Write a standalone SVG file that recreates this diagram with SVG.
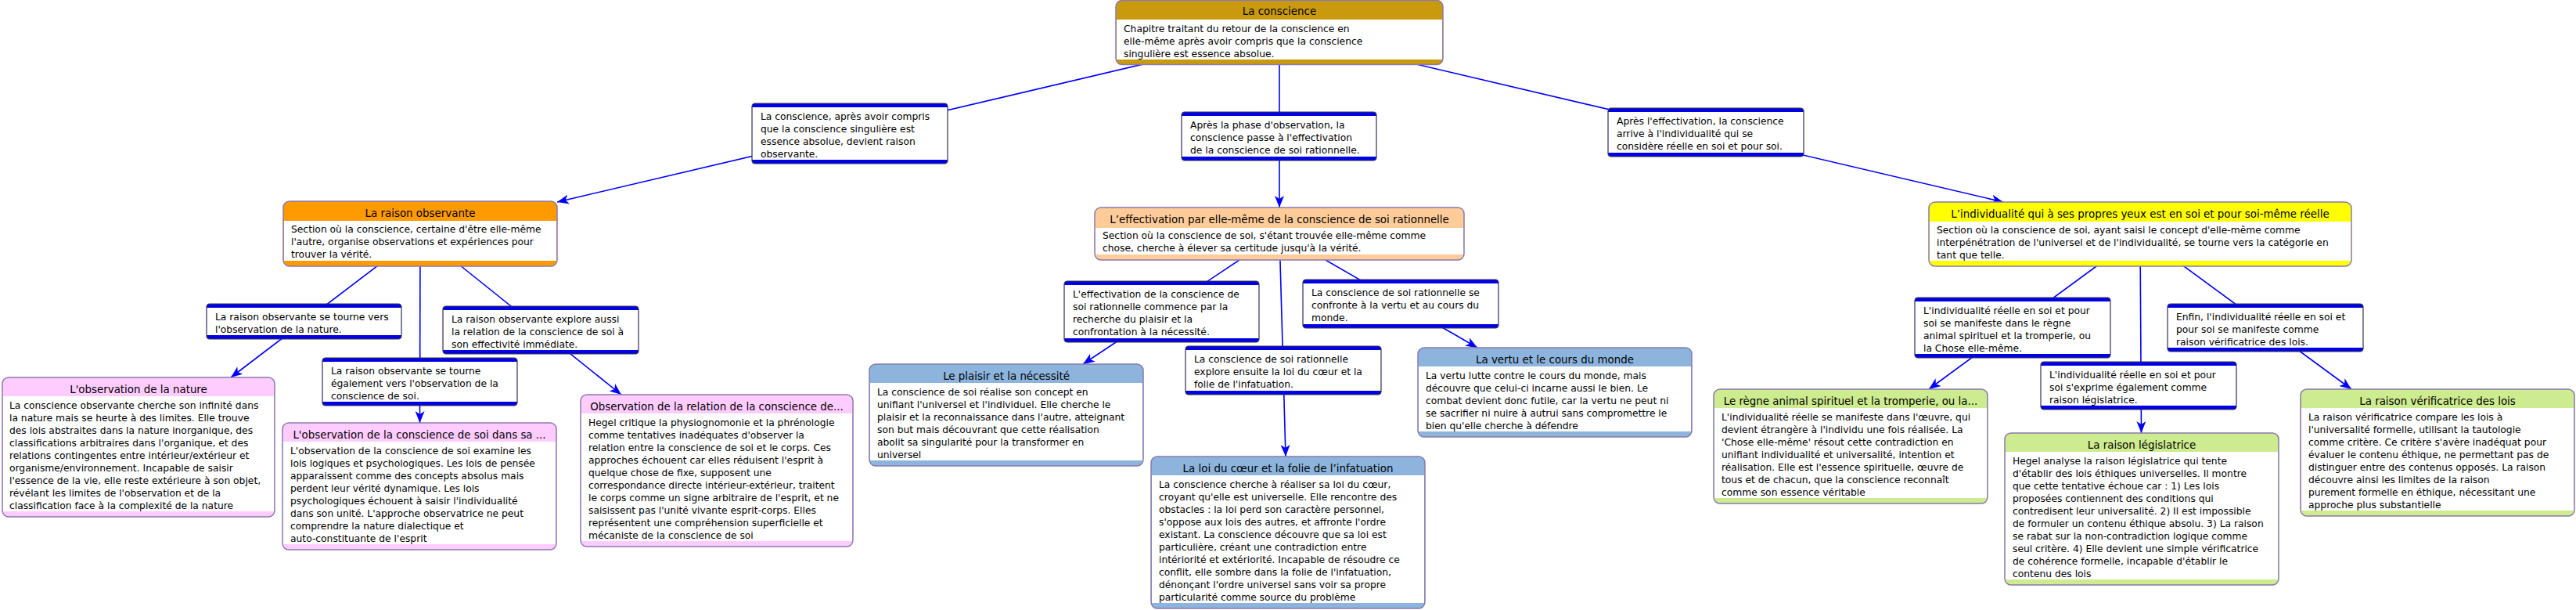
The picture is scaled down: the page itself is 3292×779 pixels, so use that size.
<svg xmlns="http://www.w3.org/2000/svg" width="3292" height="779" viewBox="0 0 3292 779">
<defs>
<marker id="arr" markerUnits="userSpaceOnUse" markerWidth="16" markerHeight="12" refX="15" refY="6" orient="auto">
<path d="M0,0 L15,6 L0,12 L4,6 z" fill="#0000ff"/>
</marker>
<style>
.bg{fill:#ffffff}
.edge{stroke:#0000ff;stroke-width:1.6;fill:none;marker-end:url(#arr)}
.lo{fill:#0000e6;stroke:#3a3a3a;stroke-width:1.2}
.li{fill:#ffffff}
.nb{fill:none;stroke:#8a7aae;stroke-width:1.5}
.nw{fill:#ffffff}
text{font-family:"DejaVu Sans","Liberation Sans",sans-serif;fill:#000000}
.t{font-size:13.4px;text-anchor:middle}
.b{font-size:12.3px}
</style>
</defs>
<rect class="bg" x="0" y="0" width="3292" height="779"/>
<g id="connectors">
<path class="edge" d="M1635,41 L712,258"/>
<path class="edge" d="M1635,41 L1635,265"/>
<path class="edge" d="M1635,41 L2560,258"/>
<path class="edge" d="M537,298 L295,482"/>
<path class="edge" d="M537,298 L536.5,540"/>
<path class="edge" d="M537,298 L794,504"/>
<path class="edge" d="M1635,298 L1384,465"/>
<path class="edge" d="M1635,298 L1643,583"/>
<path class="edge" d="M1635,298 L1888,444"/>
<path class="edge" d="M2735,299 L2465,497"/>
<path class="edge" d="M2735,299 L2736.5,553"/>
<path class="edge" d="M2735,299 L3005,497"/>
</g>

<g id="n-top">
<rect x="1426" y="0.5" width="418" height="82" rx="8" fill="#c99a0e"/>
<rect class="nw" x="1427" y="25" width="416" height="51"/>
<rect class="nb" x="1426" y="0.5" width="418" height="82" rx="8"/>
<text class="t" x="1635" y="19">La conscience</text>
<text class="b" x="1436"><tspan x="1436" y="41">Chapitre traitant du retour de la conscience en</tspan><tspan x="1436" y="57">elle-même après avoir compris que la conscience</tspan><tspan x="1436" y="73">singulière est essence absolue.</tspan></text>
</g>

<g id="l-top-left">
<rect class="lo" x="961" y="132" width="250" height="77" rx="4"/>
<rect class="li" x="961.6" y="137" width="248.8" height="67"/>
<text class="b"><tspan x="972" y="153">La conscience, après avoir compris</tspan><tspan x="972" y="169">que la conscience singulière est</tspan><tspan x="972" y="185">essence absolue, devient raison</tspan><tspan x="972" y="201">observante.</tspan></text>
</g>
<g id="l-top-mid">
<rect class="lo" x="1510" y="143" width="249" height="62" rx="4"/>
<rect class="li" x="1510.6" y="148" width="247.8" height="52"/>
<text class="b"><tspan x="1521" y="164">Après la phase d'observation, la</tspan><tspan x="1521" y="180">conscience passe à l'effectivation</tspan><tspan x="1521" y="196">de la conscience de soi rationnelle.</tspan></text>
</g>
<g id="l-top-right">
<rect class="lo" x="2055" y="138" width="250" height="62" rx="4"/>
<rect class="li" x="2055.6" y="143" width="248.8" height="52"/>
<text class="b"><tspan x="2066" y="159">Après l'effectivation, la conscience</tspan><tspan x="2066" y="175">arrive à l'individualité qui se</tspan><tspan x="2066" y="191">considère réelle en soi et pour soi.</tspan></text>
</g>

<g id="n-raison-observante">
<rect x="362" y="257" width="350" height="83" rx="8" fill="#ff9a00"/>
<rect class="nw" x="363" y="282" width="348" height="51"/>
<rect class="nb" x="362" y="257" width="350" height="83" rx="8"/>
<text class="t" x="537" y="277">La raison observante</text>
<text class="b"><tspan x="372" y="297">Section où la conscience, certaine d'être elle-même</tspan><tspan x="372" y="313">l'autre, organise observations et expériences pour</tspan><tspan x="372" y="329">trouver la vérité.</tspan></text>
</g>

<g id="l-ro-a">
<rect class="lo" x="264" y="388" width="249" height="45" rx="4"/>
<rect class="li" x="264.6" y="393" width="247.8" height="35"/>
<text class="b"><tspan x="275" y="409">La raison observante se tourne vers</tspan><tspan x="275" y="425">l'observation de la nature.</tspan></text>
</g>
<g id="l-ro-b">
<rect class="lo" x="412" y="457" width="249" height="61" rx="4"/>
<rect class="li" x="412.6" y="462" width="247.8" height="51"/>
<text class="b"><tspan x="423" y="478">La raison observante se tourne</tspan><tspan x="423" y="494">également vers l'observation de la</tspan><tspan x="423" y="510">conscience de soi.</tspan></text>
</g>
<g id="l-ro-c">
<rect class="lo" x="566" y="391" width="250" height="61" rx="4"/>
<rect class="li" x="566.6" y="396" width="248.8" height="51"/>
<text class="b"><tspan x="577" y="412">La raison observante explore aussi</tspan><tspan x="577" y="428">la relation de la conscience de soi à</tspan><tspan x="577" y="444">son effectivité immédiate.</tspan></text>
</g>

<g id="n-obs-nature">
<rect x="3" y="482" width="348" height="178" rx="8" fill="#ffccff"/>
<rect class="nw" x="4" y="506" width="346" height="147"/>
<rect class="nb" x="3" y="482" width="348" height="178" rx="8"/>
<text class="t" x="177" y="502">L'observation de la nature</text>
<text class="b"><tspan x="12" y="522">La conscience observante cherche son infinité dans</tspan><tspan x="12" y="538">la nature mais se heurte à des limites. Elle trouve</tspan><tspan x="12" y="554">des lois abstraites dans la nature inorganique, des</tspan><tspan x="12" y="570">classifications arbitraires dans l'organique, et des</tspan><tspan x="12" y="586">relations contingentes entre intérieur/extérieur et</tspan><tspan x="12" y="602">organisme/environnement. Incapable de saisir</tspan><tspan x="12" y="618">l'essence de la vie, elle reste extérieure à son objet,</tspan><tspan x="12" y="634">révélant les limites de l'observation et de la</tspan><tspan x="12" y="650">classification face à la complexité de la nature</tspan></text>
</g>

<g id="n-obs-conscience">
<rect x="361" y="540" width="350" height="162" rx="8" fill="#ffccff"/>
<rect class="nw" x="362" y="564" width="348" height="131"/>
<rect class="nb" x="361" y="540" width="350" height="162" rx="8"/>
<text class="t" x="536" y="560">L'observation de la conscience de soi dans sa ...</text>
<text class="b"><tspan x="371" y="580">L'observation de la conscience de soi examine les</tspan><tspan x="371" y="596">lois logiques et psychologiques. Les lois de pensée</tspan><tspan x="371" y="612">apparaissent comme des concepts absolus mais</tspan><tspan x="371" y="628">perdent leur vérité dynamique. Les lois</tspan><tspan x="371" y="644">psychologiques échouent à saisir l'individualité</tspan><tspan x="371" y="660">dans son unité. L'approche observatrice ne peut</tspan><tspan x="371" y="676">comprendre la nature dialectique et</tspan><tspan x="371" y="692">auto-constituante de l'esprit</tspan></text>
</g>

<g id="n-obs-relation">
<rect x="742" y="504" width="348" height="194" rx="8" fill="#ffccff"/>
<rect class="nw" x="743" y="528" width="346" height="163"/>
<rect class="nb" x="742" y="504" width="348" height="194" rx="8"/>
<text class="t" x="916" y="524">Observation de la relation de la conscience de...</text>
<text class="b"><tspan x="752" y="544">Hegel critique la physiognomonie et la phrénologie</tspan><tspan x="752" y="560">comme tentatives inadéquates d'observer la</tspan><tspan x="752" y="576">relation entre la conscience de soi et le corps. Ces</tspan><tspan x="752" y="592">approches échouent car elles réduisent l'esprit à</tspan><tspan x="752" y="608">quelque chose de fixe, supposent une</tspan><tspan x="752" y="624">correspondance directe intérieur-extérieur, traitent</tspan><tspan x="752" y="640">le corps comme un signe arbitraire de l'esprit, et ne</tspan><tspan x="752" y="656">saisissent pas l'unité vivante esprit-corps. Elles</tspan><tspan x="752" y="672">représentent une compréhension superficielle et</tspan><tspan x="752" y="688">mécaniste de la conscience de soi</tspan></text>
</g>

<g id="n-effectivation">
<rect x="1399" y="265" width="472" height="67" rx="8" fill="#ffcc99"/>
<rect class="nw" x="1400" y="291" width="470" height="34"/>
<rect class="nb" x="1399" y="265" width="472" height="67" rx="8"/>
<text class="t" x="1635" y="285">L’effectivation par elle-même de la conscience de soi rationnelle</text>
<text class="b"><tspan x="1409" y="305">Section où la conscience de soi, s'étant trouvée elle-même comme</tspan><tspan x="1409" y="321">chose, cherche à élever sa certitude jusqu'à la vérité.</tspan></text>
</g>

<g id="l-ef-a">
<rect class="lo" x="1360" y="359" width="249" height="78" rx="4"/>
<rect class="li" x="1360.6" y="364" width="247.8" height="68"/>
<text class="b"><tspan x="1371" y="380">L'effectivation de la conscience de</tspan><tspan x="1371" y="396">soi rationnelle commence par la</tspan><tspan x="1371" y="412">recherche du plaisir et la</tspan><tspan x="1371" y="428">confrontation à la nécessité.</tspan></text>
</g>
<g id="l-ef-b">
<rect class="lo" x="1665" y="357" width="250" height="62" rx="4"/>
<rect class="li" x="1665.6" y="362" width="248.8" height="52"/>
<text class="b"><tspan x="1676" y="378">La conscience de soi rationnelle se</tspan><tspan x="1676" y="394">confronte à la vertu et au cours du</tspan><tspan x="1676" y="410">monde.</tspan></text>
</g>
<g id="l-ef-c">
<rect class="lo" x="1515" y="442" width="250" height="62" rx="4"/>
<rect class="li" x="1515.6" y="447" width="248.8" height="52"/>
<text class="b"><tspan x="1526" y="463">La conscience de soi rationnelle</tspan><tspan x="1526" y="479">explore ensuite la loi du cœur et la</tspan><tspan x="1526" y="495">folie de l'infatuation.</tspan></text>
</g>

<g id="n-plaisir">
<rect x="1111" y="465" width="350" height="130" rx="8" fill="#8cb4dc"/>
<rect class="nw" x="1112" y="489" width="348" height="99"/>
<rect class="nb" x="1111" y="465" width="350" height="130" rx="8"/>
<text class="t" x="1286" y="485">Le plaisir et la nécessité</text>
<text class="b"><tspan x="1121" y="505">La conscience de soi réalise son concept en</tspan><tspan x="1121" y="521">unifiant l'universel et l'individuel. Elle cherche le</tspan><tspan x="1121" y="537">plaisir et la reconnaissance dans l'autre, atteignant</tspan><tspan x="1121" y="553">son but mais découvrant que cette réalisation</tspan><tspan x="1121" y="569">abolit sa singularité pour la transformer en</tspan><tspan x="1121" y="585">universel</tspan></text>
</g>

<g id="n-loi-coeur">
<rect x="1471" y="583" width="350" height="194" rx="8" fill="#8cb4dc"/>
<rect class="nw" x="1472" y="607" width="348" height="163"/>
<rect class="nb" x="1471" y="583" width="350" height="194" rx="8"/>
<text class="t" x="1646" y="603">La loi du cœur et la folie de l’infatuation</text>
<text class="b"><tspan x="1481" y="623">La conscience cherche à réaliser sa loi du cœur,</tspan><tspan x="1481" y="639">croyant qu'elle est universelle. Elle rencontre des</tspan><tspan x="1481" y="655">obstacles : la loi perd son caractère personnel,</tspan><tspan x="1481" y="671">s'oppose aux lois des autres, et affronte l'ordre</tspan><tspan x="1481" y="687">existant. La conscience découvre que sa loi est</tspan><tspan x="1481" y="703">particulière, créant une contradiction entre</tspan><tspan x="1481" y="719">intériorité et extériorité. Incapable de résoudre ce</tspan><tspan x="1481" y="735">conflit, elle sombre dans la folie de l'infatuation,</tspan><tspan x="1481" y="751">dénonçant l'ordre universel sans voir sa propre</tspan><tspan x="1481" y="767">particularité comme source du problème</tspan></text>
</g>

<g id="n-vertu">
<rect x="1812" y="444" width="350" height="114" rx="8" fill="#8cb4dc"/>
<rect class="nw" x="1813" y="468" width="348" height="83"/>
<rect class="nb" x="1812" y="444" width="350" height="114" rx="8"/>
<text class="t" x="1987" y="464">La vertu et le cours du monde</text>
<text class="b"><tspan x="1822" y="484">La vertu lutte contre le cours du monde, mais</tspan><tspan x="1822" y="500">découvre que celui-ci incarne aussi le bien. Le</tspan><tspan x="1822" y="516">combat devient donc futile, car la vertu ne peut ni</tspan><tspan x="1822" y="532">se sacrifier ni nuire à autrui sans compromettre le</tspan><tspan x="1822" y="548">bien qu'elle cherche à défendre</tspan></text>
</g>

<g id="n-individualite">
<rect x="2465" y="258" width="540" height="82" rx="8" fill="#ffff00"/>
<rect class="nw" x="2466" y="283" width="538" height="50"/>
<rect class="nb" x="2465" y="258" width="540" height="82" rx="8"/>
<text class="t" x="2735" y="278">L’individualité qui à ses propres yeux est en soi et pour soi-même réelle</text>
<text class="b"><tspan x="2475" y="298">Section où la conscience de soi, ayant saisi le concept d'elle-même comme</tspan><tspan x="2475" y="314">interpénétration de l'universel et de l'individualité, se tourne vers la catégorie en</tspan><tspan x="2475" y="330">tant que telle.</tspan></text>
</g>

<g id="l-in-a">
<rect class="lo" x="2447" y="380" width="250" height="77" rx="4"/>
<rect class="li" x="2447.6" y="385" width="248.8" height="67"/>
<text class="b"><tspan x="2458" y="401">L'individualité réelle en soi et pour</tspan><tspan x="2458" y="417">soi se manifeste dans le règne</tspan><tspan x="2458" y="433">animal spirituel et la tromperie, ou</tspan><tspan x="2458" y="449">la Chose elle-même.</tspan></text>
</g>
<g id="l-in-b">
<rect class="lo" x="2608" y="462" width="250" height="61" rx="4"/>
<rect class="li" x="2608.6" y="467" width="248.8" height="51"/>
<text class="b"><tspan x="2619" y="483">L'individualité réelle en soi et pour</tspan><tspan x="2619" y="499">soi s'exprime également comme</tspan><tspan x="2619" y="515">raison législatrice.</tspan></text>
</g>
<g id="l-in-c">
<rect class="lo" x="2770" y="388" width="250" height="61" rx="4"/>
<rect class="li" x="2770.6" y="393" width="248.8" height="51"/>
<text class="b"><tspan x="2781" y="409">Enfin, l'individualité réelle en soi et</tspan><tspan x="2781" y="425">pour soi se manifeste comme</tspan><tspan x="2781" y="441">raison vérificatrice des lois.</tspan></text>
</g>

<g id="n-regne">
<rect x="2190" y="497" width="350" height="146" rx="8" fill="#cdeb8f"/>
<rect class="nw" x="2191" y="521" width="348" height="115"/>
<rect class="nb" x="2190" y="497" width="350" height="146" rx="8"/>
<text class="t" x="2365" y="517">Le règne animal spirituel et la tromperie, ou la...</text>
<text class="b"><tspan x="2200" y="537">L'individualité réelle se manifeste dans l'œuvre, qui</tspan><tspan x="2200" y="553">devient étrangère à l'individu une fois réalisée. La</tspan><tspan x="2200" y="569">'Chose elle-même' résout cette contradiction en</tspan><tspan x="2200" y="585">unifiant individualité et universalité, intention et</tspan><tspan x="2200" y="601">réalisation. Elle est l'essence spirituelle, œuvre de</tspan><tspan x="2200" y="617">tous et de chacun, que la conscience reconnaît</tspan><tspan x="2200" y="633">comme son essence véritable</tspan></text>
</g>

<g id="n-legislatrice">
<rect x="2562" y="553" width="350" height="194" rx="8" fill="#cdeb8f"/>
<rect class="nw" x="2563" y="577" width="348" height="163"/>
<rect class="nb" x="2562" y="553" width="350" height="194" rx="8"/>
<text class="t" x="2737" y="573">La raison législatrice</text>
<text class="b"><tspan x="2572" y="593">Hegel analyse la raison législatrice qui tente</tspan><tspan x="2572" y="609">d'établir des lois éthiques universelles. Il montre</tspan><tspan x="2572" y="625">que cette tentative échoue car : 1) Les lois</tspan><tspan x="2572" y="641">proposées contiennent des conditions qui</tspan><tspan x="2572" y="657">contredisent leur universalité. 2) Il est impossible</tspan><tspan x="2572" y="673">de formuler un contenu éthique absolu. 3) La raison</tspan><tspan x="2572" y="689">se rabat sur la non-contradiction logique comme</tspan><tspan x="2572" y="705">seul critère. 4) Elle devient une simple vérificatrice</tspan><tspan x="2572" y="721">de cohérence formelle, incapable d'établir le</tspan><tspan x="2572" y="737">contenu des lois</tspan></text>
</g>

<g id="n-verificatrice">
<rect x="2940" y="497" width="350" height="162" rx="8" fill="#cdeb8f"/>
<rect class="nw" x="2941" y="521" width="348" height="131"/>
<rect class="nb" x="2940" y="497" width="350" height="162" rx="8"/>
<text class="t" x="3115" y="517">La raison vérificatrice des lois</text>
<text class="b"><tspan x="2950" y="537">La raison vérificatrice compare les lois à</tspan><tspan x="2950" y="553">l'universalité formelle, utilisant la tautologie</tspan><tspan x="2950" y="569">comme critère. Ce critère s'avère inadéquat pour</tspan><tspan x="2950" y="585">évaluer le contenu éthique, ne permettant pas de</tspan><tspan x="2950" y="601">distinguer entre des contenus opposés. La raison</tspan><tspan x="2950" y="617">découvre ainsi les limites de la raison</tspan><tspan x="2950" y="633">purement formelle en éthique, nécessitant une</tspan><tspan x="2950" y="649">approche plus substantielle</tspan></text>
</g>
</svg>
